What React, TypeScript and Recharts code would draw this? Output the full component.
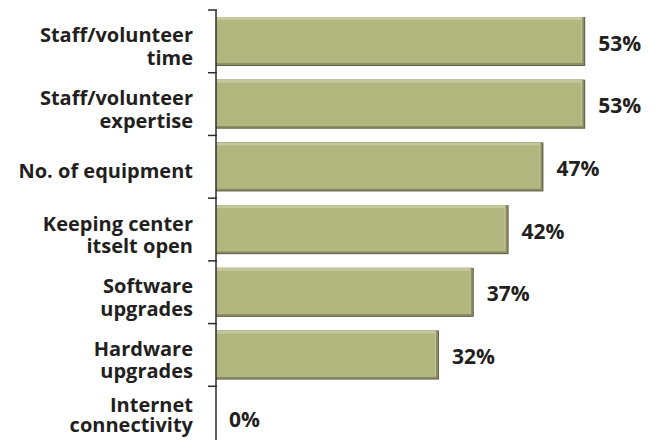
import { Bar, BarChart, LabelList, XAxis, YAxis } from "recharts";

// categories, top to bottom
const categories = [
  "Staff/volunteer time",
  "Staff/volunteer expertise",
  "No. of equipment",
  "Keeping center itselt open",
  "Software upgrades",
  "Hardware upgrades",
  "Internet connectivity",
];

// how each label wraps onto lines
const labelLines = [
  ["Staff/volunteer", "time"],
  ["Staff/volunteer", "expertise"],
  ["No. of equipment"],
  ["Keeping center", "itselt open"],
  ["Software", "upgrades"],
  ["Hardware", "upgrades"],
  ["Internet", "connectivity"],
];

const percentages = [53, 53, 47, 42, 37, 32, 0];

const data = categories.map((name, i) => ({
  name,
  lines: labelLines[i],
  value: percentages[i],
}));

const FONT = "'Open Sans', sans-serif";
const BAND = 439 / categories.length;

function CategoryTick(props: any) {
  const { x, y, payload, index } = props;
  const lines: string[] = labelLines[index] ?? [payload.value];
  // the bottom label sits a bit tighter so it stays inside the frame
  const isLast = index === categories.length - 1;
  const lineH = isLast ? 20 : 22.5;
  const startDy = lines.length === 1 ? 11 : isLast ? -6 : 1;
  return (
    <g>
      <line x1={x + 0} y1={y - BAND / 2} x2={x + 9} y2={y - BAND / 2} stroke="#2b2b2b" strokeWidth={1.5} />
      <text
        x={x - 15}
        y={y}
        textAnchor="end"
        fontFamily={FONT}
        fontWeight={700}
        fontSize={20}
        fill="#231f20"
      >
        {lines.map((ln, i) => (
          <tspan key={i} x={x - 15} dy={i === 0 ? startDy : lineH}>
            {ln}
          </tspan>
        ))}
      </text>
    </g>
  );
}

// bevelled olive bar
function BevelBar(props: any) {
  const { x, y, width, height } = props;
  if (!width || width <= 0) return null;
  const b = 3;
  return (
    <g>
      <rect x={x} y={y} width={width} height={height} fill="#5d5e48" />
      <rect x={x} y={y} width={width - 1} height={height - 1} fill="#8d8f62" />
      <rect x={x} y={y} width={width - b} height={height - b} fill="#c5c89c" />
      <rect x={x + 1} y={y + b} width={width - b - 2} height={height - 2 * b} fill="#b1b67e" />
    </g>
  );
}

function ValueLabel(props: any) {
  const { x, y, width, height, value } = props;
  return (
    <text
      x={x + width + 13}
      y={y + height / 2 + 9}
      textAnchor="start"
      fontFamily={FONT}
      fontWeight={700}
      fontSize={21}
      fill="#231f20"
    >
      {value}%
    </text>
  );
}

export default function App() {
  return (
    <div style={{ position: "absolute", left: 0, top: 0, background: "#fff" }}>
      <BarChart
        width={659}
        height={460}
        data={data}
        layout="vertical"
        margin={{ top: 10, right: 25, bottom: 11, left: 0 }}
      >
        <XAxis type="number" domain={[0, 60]} hide />
        <YAxis
          type="category"
          dataKey="name"
          width={216}
          axisLine={{ stroke: "#2b2b2b", strokeWidth: 1.5 }}
          tickLine={false}
          tick={<CategoryTick />}
          interval={0}
        />
        <Bar dataKey="value" barSize={49} shape={<BevelBar />} isAnimationActive={false}>
          <LabelList dataKey="value" content={<ValueLabel />} />
        </Bar>
      </BarChart>
    </div>
  );
}
